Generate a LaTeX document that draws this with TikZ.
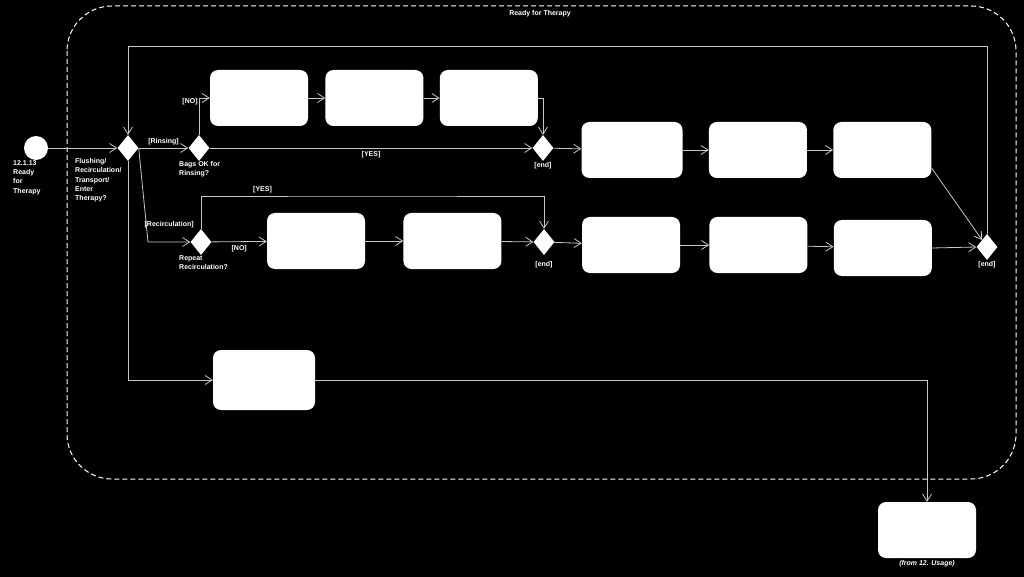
\documentclass[tikz,border=0pt]{standalone}
\usepackage{fontspec}
\setmainfont{Liberation Sans}
\usetikzlibrary{positioning,shapes.geometric,arrows.meta}
\definecolor{wire}{gray}{0.78}

\begin{document}
\begin{tikzpicture}[
x=1pt,y=-1pt,
act/.style={
  fill=white,
  rounded corners=8pt,
  minimum width=98pt,
  minimum height=56pt,
  inner sep=0pt
},
deci/.style={
  diamond,
  fill=white,
  minimum width=21pt,
  minimum height=26pt,
  inner sep=0pt
},
flow/.style={
  draw=wire,
  line width=0.8pt,
  -{Straight Barb[length=7pt,width=9pt]}
},
txt/.style={
  text=white,
  font=\fontsize{7}{9.3}\selectfont\bfseries,
  align=left,
  inner sep=0pt
},
node distance=17pt
]
\fill[black] (0,0) rectangle (1024,577);

% frame
\draw[white,line width=1pt,dash pattern=on 5pt off 3pt,rounded corners=45pt]
  (67,6) rectangle (1016,479);
\node[txt] (title) at (540,14) {Ready for Therapy};

% start and first choice
\node[circle,fill=white,minimum size=24pt,inner sep=0pt] (start) at (36,148) {};
\node[txt,anchor=north west] (startlbl) at ([xshift=-23pt]start.south)
  {12.1.13\\Ready\\for\\Therapy};
\node[deci] (d1) at (128,148) {};
\node[txt,anchor=north west] (d1lbl) at ([xshift=-53pt,yshift=3pt]d1.south)
  {Flushing/\\Recirculation/\\Transport/\\Enter\\Therapy?};

% rinsing
\node[deci] (d2) at (199,148) {};
\node[txt,anchor=north west] (d2lbl) at ([xshift=-20pt]d2.south)
  {Bags OK for\\Rinsing?};
\node[act] (a1) at (259,98) {};
\node[act,right=17pt of a1] (a2) {};
\node[act,right=16pt of a2] (a3) {};
\node[deci] (e1) at (543,148) {};
\node[txt,below=1pt of e1] (e1lbl) {[end]};
\node[act,minimum width=101pt] (b1) at (632,150) {};
\node[act,right=26pt of b1] (b2) {};
\node[act,right=26pt of b2] (b3) {};

% recirculation
\node[deci] (d3) at (201,242) {};
\node[txt,anchor=north west] (d3lbl) at ([xshift=-22pt]d3.south)
  {Repeat\\Recirculation?};
\node[act] (c1) at (316,241) {};
\node[act,right=38pt of c1] (c2) {};
\node[deci] (e2) at (544,242) {};
\node[txt,below=6pt of e2] (e2lbl) {[end]};
\node[act] (g1) at (631,245) {};
\node[act,right=29pt of g1] (g2) {};
\node[act,right=26pt of g2,yshift=-3pt] (g3) {};
\node[deci] (f) at (987,247) {};
\node[txt,below=1pt of f] (flbl) {[end]};

% transport
\node[act,minimum width=102pt,minimum height=60pt] (h) at (264,380) {};
\node[act] (j) at (927,530) {};
\node[txt,font=\fontsize{7}{9.3}\selectfont\bfseries\itshape,below=2pt of j] (jlbl)
  {(from 12. Usage)};

\coordinate (looptop) at (128,46);
\coordinate (recbend) at (148,242);
\coordinate (yesbar) at (372,196);

\draw[flow] (start) -- (d1);
\draw[flow] (d1) -- node[txt,above=3pt] {[Rinsing]} (d2);
\draw[flow] (d2.north) |- node[txt,left=1pt,pos=0.45] {[NO]} (a1.west);
\draw[flow] (a1) -- (a2);
\draw[flow] (a2) -- (a3);
\draw[flow] (a3.east) -| (e1.north);
\draw[flow] (d2) -- node[txt,below=3pt] {[YES]} (e1);
\draw[flow] (e1) -- (b1);
\draw[flow] (b1) -- (b2);
\draw[flow] (b2) -- (b3);
\draw[flow] (b3.-20) -- (f);
\draw[flow] (f.north) |- (looptop) -- (d1.north);

\draw[flow] (d1.east) -- (recbend) -- node[txt,above=14pt] {[Recirculation]} (d3);
\draw[flow] (d3) -- node[txt,below=3pt] {[NO]} (c1);
\draw[flow] (d3.north) |- node[txt,above=3pt,pos=0.68] {[YES]} (yesbar) -| (e2.north);
\draw[flow] (c1) -- (c2);
\draw[flow] (c2) -- (e2);
\draw[flow] (e2) -- (g1);
\draw[flow] (g1) -- (g2);
\draw[flow] (g2) -- (g3);
\draw[flow] (g3.east) -- (f.west);

\draw[flow] (d1.south) |- (h.west);
\draw[flow] (h.east) -| (j.north);
\end{tikzpicture}
\end{document}
